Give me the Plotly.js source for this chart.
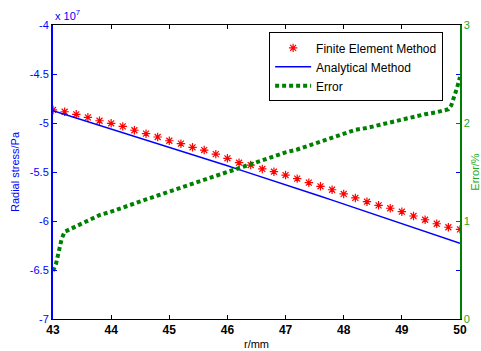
<!DOCTYPE html>
<html><head><meta charset="utf-8">
<script src="https://cdn.plot.ly/plotly-3.0.1.min.js"></script>
<style>html,body{margin:0;padding:0;background:#fff}#chart{width:481px;height:351px}</style>
</head><body><div id="chart"></div>
<script>
// radius r in mm
const rMm = [43.0,43.2,43.4,43.6,43.8,44.0,44.2,44.4,44.6,44.8,45.0,45.2,45.4,45.6,45.8,46.0,46.2,46.4,46.6,46.8,47.0,47.2,47.4,47.6,47.8,48.0,48.2,48.4,48.6,48.8,49.0,49.2,49.4,49.6,49.8,50.0];
// radial stress, units of 1e7 Pa
const femStress = [-4.867,-4.885,-4.911,-4.942,-4.977,-5.003,-5.034,-5.074,-5.109,-5.143,-5.181,-5.211,-5.248,-5.276,-5.318,-5.360,-5.405,-5.429,-5.469,-5.497,-5.531,-5.568,-5.609,-5.646,-5.681,-5.724,-5.765,-5.803,-5.840,-5.870,-5.905,-5.949,-5.987,-6.028,-6.064,-6.085];
const analyticalStress = [-4.874,-4.911,-4.948,-4.985,-5.022,-5.059,-5.096,-5.133,-5.170,-5.207,-5.244,-5.282,-5.320,-5.359,-5.398,-5.437,-5.476,-5.514,-5.551,-5.589,-5.627,-5.667,-5.707,-5.748,-5.787,-5.827,-5.866,-5.906,-5.947,-5.988,-6.028,-6.069,-6.109,-6.149,-6.189,-6.228];
// error in %
const errR = [43.0,43.05,43.1,43.15,43.2,43.4,43.6,43.8,44.0,44.2,44.4,44.6,44.8,45.0,45.2,45.4,45.6,45.8,46.0,46.2,46.4,46.6,46.8,47.0,47.2,47.4,47.6,47.8,48.0,48.2,48.4,48.6,48.8,49.0,49.2,49.4,49.6,49.8,49.85,49.9,49.95,50.0];
const errPct = [0.49,0.56,0.69,0.82,0.89,0.95,1.00,1.06,1.095,1.14,1.18,1.22,1.26,1.30,1.34,1.38,1.42,1.46,1.50,1.55,1.59,1.63,1.66,1.70,1.73,1.77,1.82,1.86,1.90,1.93,1.95,1.98,2.01,2.04,2.06,2.09,2.11,2.14,2.18,2.26,2.36,2.47];
const xTicks = [43,44,45,46,47,48,49,50];
const yTicks = [-7,-6.5,-6,-5.5,-5,-4.5,-4];
const yTickText = ['-7','-6.5','-6','-5.5','-5','-4.5','-4'];
const y2Ticks = [0,1,2,3];

const F = '"Liberation Sans", Arial, sans-serif';
const BLUE = '#0000ff', GREEN = '#008000', RED = '#ff0000';

const traces = [
  {x: rMm, y: femStress, name: 'Finite Element Method', mode: 'markers', type: 'scatter',
   marker: {symbol: 'asterisk-open', size: 7, color: RED, line: {color: RED, width: 1.2}}},
  {x: rMm, y: analyticalStress, name: 'Analytical Method', mode: 'lines', type: 'scatter',
   line: {color: BLUE, width: 1.5}},
  {x: errR, y: errPct, name: 'Error', mode: 'lines', type: 'scatter', yaxis: 'y2',
   line: {color: GREEN, width: 4, dash: '4px,3px'}}
];

const layout = {
  width: 481, height: 351,
  margin: {l: 53, r: 21, t: 25, b: 32},
  paper_bgcolor: '#fff', plot_bgcolor: '#fff',
  font: {family: F, size: 11, color: '#000'},
  showlegend: true,
  legend: {x: 0.531, y: 0.975, xanchor: 'left', yanchor: 'top', bgcolor: '#fff',
           bordercolor: '#000', borderwidth: 1, font: {family: F, size: 12, color: '#000'},
           itemwidth: 36, tracegroupgap: 0},
  xaxis: {range: [43, 50], tickvals: xTicks, ticks: 'inside', ticklen: 4, tickcolor: '#000',
          showline: true, linecolor: '#000', linewidth: 1, mirror: 'ticks', showgrid: false, zeroline: false,
          tickfont: {family: F, size: 12, color: '#000', weight: 'bold'},
          title: {text: 'r/mm', font: {family: F, size: 11, color: '#000'}, standoff: 3}},
  yaxis: {range: [-7, -4], tickvals: yTicks, ticktext: yTickText, ticks: 'inside', ticklen: 4,
          tickcolor: BLUE, showline: true, linecolor: BLUE, linewidth: 2, mirror: false,
          showgrid: false, zeroline: false,
          tickfont: {family: F, size: 11, color: BLUE},
          title: {text: 'Radial stress/Pa', font: {family: F, size: 11, color: BLUE}, standoff: 8}},
  yaxis2: {range: [0, 3], tickvals: y2Ticks, overlaying: 'y', side: 'right', ticks: 'inside', ticklen: 4,
           tickcolor: GREEN, showline: true, linecolor: GREEN, linewidth: 1.5,
           minor: {tickvals: [0.5, 1.5, 2.5], ticks: 'inside', ticklen: 4, tickcolor: BLUE, showgrid: false},
           showgrid: false, zeroline: false,
           tickfont: {family: F, size: 11, color: '#22aa22'},
           title: {text: 'Error/%', font: {family: F, size: 11, color: '#22aa22'}, standoff: 6}},
  annotations: [{xref: 'paper', yref: 'paper', x: 0, y: 1, xanchor: 'left', yanchor: 'bottom',
                 yshift: 1, showarrow: false, text: 'x 10<sup>7</sup>',
                 font: {family: F, size: 11, color: BLUE}}]
};

Plotly.newPlot('chart', traces, layout, {displayModeBar: false, staticPlot: true});
</script></body></html>
